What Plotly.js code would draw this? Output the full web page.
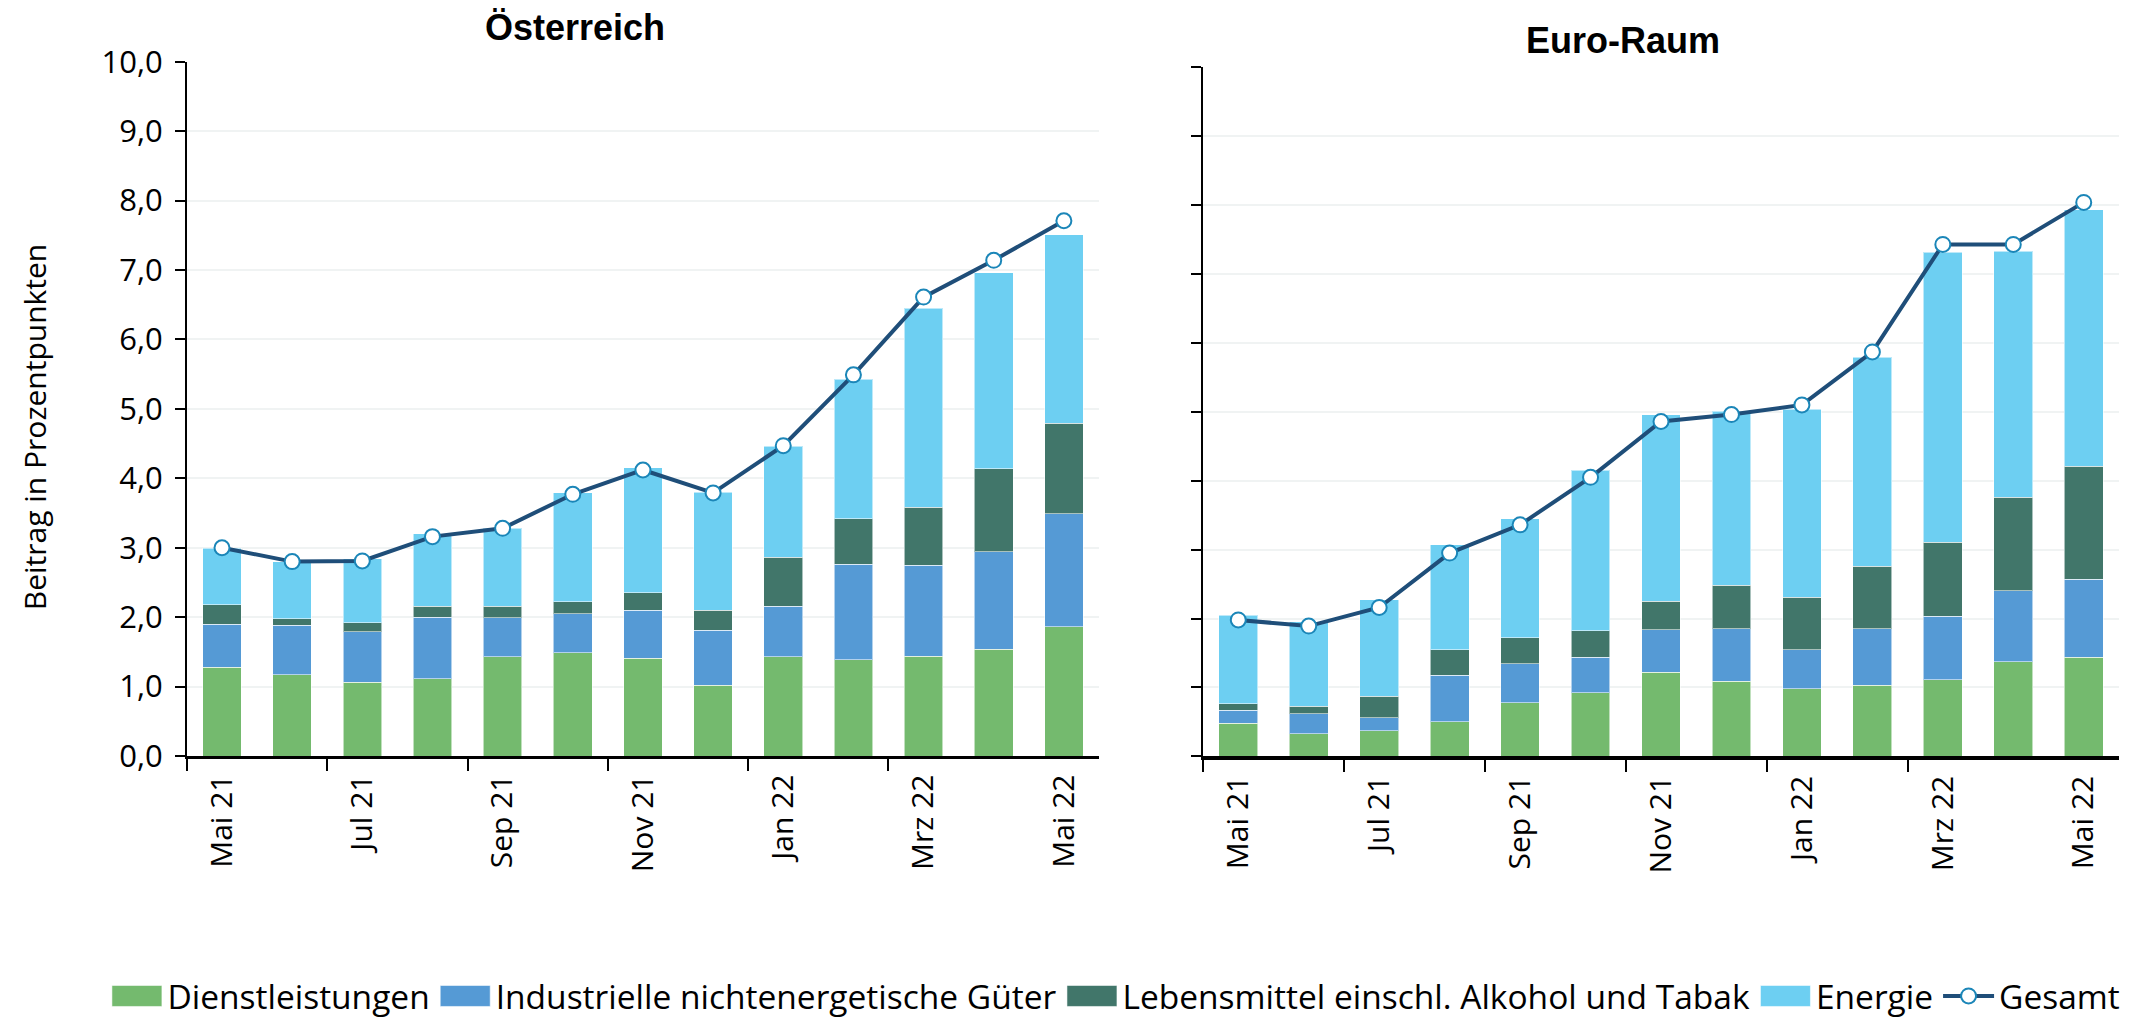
<!DOCTYPE html>
<html>
<head>
<meta charset="utf-8">
<script src="https://cdn.plot.ly/plotly-3.0.1.min.js"></script>
<style>html,body{margin:0;padding:0;background:#fff;}#chart{width:2146px;height:1025px;}</style>
</head>
<body>
<div id="chart"></div>
<script>
const months = ["Mai 21","Jun 21","Jul 21","Aug 21","Sep 21","Okt 21","Nov 21","Dez 21","Jan 22","Feb 22","Mrz 22","Apr 22","Mai 22"];
const labelledMonths = ["Mai 21","Jul 21","Sep 21","Nov 21","Jan 22","Mrz 22","Mai 22"];
const seriesNames = ["Dienstleistungen","Industrielle nichtenergetische Güter","Lebensmittel einschl. Alkohol und Tabak","Energie"];
const totalName = "Gesamt";
const panelTitles = ["Österreich","Euro-Raum"];
const yAxisTitle = "Beitrag in Prozentpunkten";

// Österreich
const atDienst   = [1.28,1.17,1.06,1.11,1.43,1.49,1.41,1.02,1.43,1.39,1.44,1.54,1.86];
const atIndustrie= [0.62,0.71,0.73,0.89,0.56,0.56,0.69,0.79,0.73,1.37,1.31,1.40,1.63];
const atLebensm  = [0.28,0.10,0.13,0.16,0.17,0.17,0.25,0.29,0.70,0.66,0.83,1.20,1.30];
const atEnergie  = [0.81,0.82,0.92,1.04,1.12,1.57,1.80,1.70,1.60,2.01,2.87,2.82,2.72];
const atGesamt   = [3.00,2.80,2.81,3.16,3.28,3.77,4.12,3.79,4.47,5.49,6.61,7.14,7.71];

// Euro-Raum
const euDienst   = [0.48,0.33,0.37,0.50,0.78,0.92,1.22,1.09,0.98,1.03,1.11,1.37,1.44];
const euIndustrie= [0.19,0.29,0.19,0.68,0.56,0.52,0.62,0.76,0.57,0.82,0.92,1.03,1.13];
const euLebensm  = [0.09,0.11,0.31,0.37,0.38,0.38,0.41,0.63,0.76,0.91,1.08,1.36,1.64];
const euEnergie  = [1.29,1.22,1.40,1.52,1.73,2.33,2.71,2.53,2.73,3.03,4.21,3.57,3.72];
const euGesamt   = [1.98,1.89,2.16,2.95,3.36,4.05,4.86,4.96,5.10,5.87,7.43,7.43,8.04];

const colors = ["#74BA6E","#559AD5","#41766A","#6DCFF2"];
const lineColor = "#1F4E79";
const markerEdge = "#1B86B8";
const FONT = "'Open Sans', 'DejaVu Sans', sans-serif";

const xIdx = months.map((m, i) => i);
const tickIdx = labelledMonths.map(m => months.indexOf(m));
const boundaryTicks = tickIdx.slice(0, -1).map(i => i - 0.5);

function panel(series, total, xa, ya, showLegend) {
  const tr = series.map((vals, k) => ({
    type: "bar", x: xIdx, y: vals, name: seriesNames[k],
    xaxis: xa, yaxis: ya, showlegend: showLegend, legendgroup: seriesNames[k],
    marker: {color: colors[k], line: {color: "rgba(255,255,255,0.55)", width: 1}},
    width: 0.55, hoverinfo: "skip"
  }));
  tr.push({
    type: "scatter", mode: "lines+markers", x: xIdx, y: total, name: totalName,
    xaxis: xa, yaxis: ya, showlegend: showLegend, legendgroup: totalName,
    line: {color: lineColor, width: 4},
    marker: {size: 15, color: "#FFFFFF", line: {color: markerEdge, width: 2}},
    hoverinfo: "skip"
  });
  return tr;
}

const data = [
  ...panel([atDienst, atIndustrie, atLebensm, atEnergie], atGesamt, "x", "y", true),
  ...panel([euDienst, euIndustrie, euLebensm, euEnergie], euGesamt, "x2", "y2", false)
];

function xAxis(domain, anchor, lw) {
  return {
    domain: domain, anchor: anchor, range: [-0.5, months.length - 0.5],
    tickmode: "array", tickvals: tickIdx, ticktext: labelledMonths,
    tickangle: -90, ticks: "", showgrid: false, zeroline: false,
    showline: true, linecolor: "#000", linewidth: lw,
    tickfont: {family: FONT, size: 30, color: "#000"}, ticklabelstandoff: 4,
    minor: {tickmode: "array", tickvals: boundaryTicks, ticks: "outside", ticklen: 12, tickwidth: 2, tickcolor: "#000", showgrid: false},
    fixedrange: true
  };
}
function yAxis(domain, anchor, labels) {
  return {
    domain: domain, anchor: anchor, range: [0, 10], dtick: 1, tick0: 0,
    tickformat: ".1f", showticklabels: labels,
    ticks: "outside", ticklen: 10, tickwidth: 2, tickcolor: "#000",
    showline: true, linecolor: "#000", linewidth: 2,
    showgrid: true, gridcolor: "#F0F3F3", gridwidth: 2, zeroline: false,
    tickfont: {family: FONT, size: 31, color: "#000"}, ticklabelstandoff: 6,
    fixedrange: true
  };
}

const layout = {
  width: 2146, height: 1025,
  margin: {l: 0, r: 0, t: 0, b: 0},
  paper_bgcolor: "#fff", plot_bgcolor: "#fff",
  separators: ",.",
  barmode: "stack", bargap: 0.45,
  font: {family: FONT, color: "#000"},
  xaxis: xAxis([0.0871, 0.5121], "y", 2.5),
  yaxis: yAxis([0.2559, 0.9392], "x", true),
  xaxis2: xAxis([0.5606, 0.9874], "y2", 3.5),
  yaxis2: yAxis([0.2556, 0.9337], "x2", false),
  showlegend: true,
  legend: {
    orientation: "h", x: 0.52, xanchor: "center", y: 0.0195, yanchor: "middle",
    traceorder: "normal", font: {family: FONT, size: 33.5, color: "#000"},
    itemwidth: 51, tracegroupgap: 0, bgcolor: "rgba(0,0,0,0)"
  },
  annotations: [
    {text: "<b>" + panelTitles[0] + "</b>", xref: "paper", yref: "paper", x: 0.268, y: 0.9727,
     xanchor: "center", yanchor: "middle", showarrow: false,
     font: {family: "'Liberation Sans', Arial, sans-serif", size: 36, color: "#000"}},
    {text: "<b>" + panelTitles[1] + "</b>", xref: "paper", yref: "paper", x: 0.7563, y: 0.96,
     xanchor: "center", yanchor: "middle", showarrow: false,
     font: {family: "'Liberation Sans', Arial, sans-serif", size: 36, color: "#000"}},
    {text: yAxisTitle, xref: "paper", yref: "paper", x: 34 / 2146, y: (1025 - 431) / 1025,
     xanchor: "center", yanchor: "middle", textangle: -90, showarrow: false,
     font: {family: FONT, size: 30, color: "#000"}}
  ]
};

Plotly.newPlot("chart", data, layout, {displayModeBar: false, staticPlot: true}).then(function (gd) {
  // widen the bar legend swatches to the reference's rectangular keys
  const items = gd.querySelectorAll(".legend .traces");
  items.forEach(function (it, i) {
    if (i < seriesNames.length) {
      it.querySelectorAll(".legendpoints path").forEach(function (p) {
        p.setAttribute("d", "M25,10.5H-25V-10.5H25Z");
      });
    }
  });
});
</script>
</body>
</html>
